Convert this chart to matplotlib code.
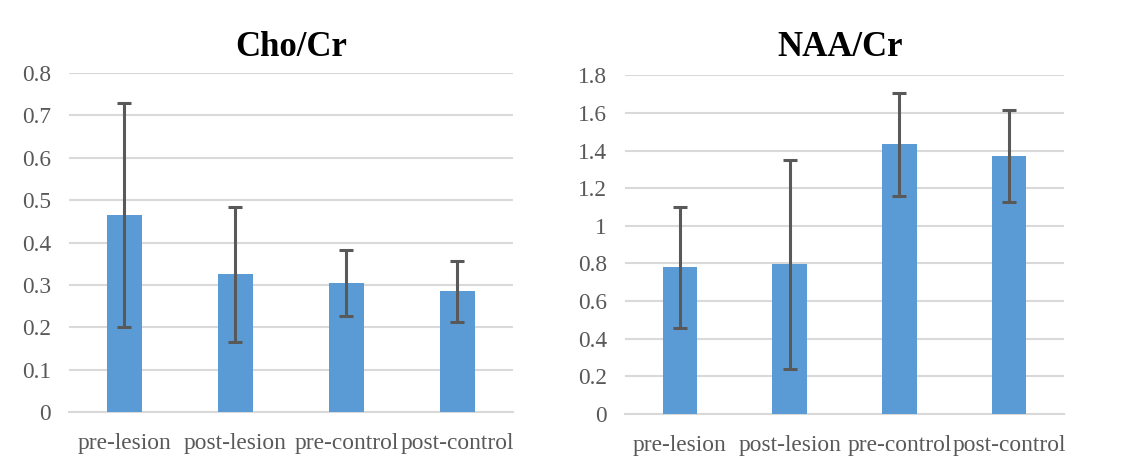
import matplotlib; matplotlib.use('Agg')
import matplotlib.pyplot as plt
import numpy as np

plt.rcParams.update({
    'font.family': 'Liberation Serif',
})

groups = ['pre-lesion', 'post-lesion', 'pre-control', 'post-control']

cho_mean = [0.465, 0.325, 0.305, 0.285]
cho_err = [0.265, 0.159, 0.078, 0.072]

naa_mean = [0.78, 0.797, 1.434, 1.37]
naa_err = [0.322, 0.555, 0.273, 0.246]

bar_col = '#5B9BD5'
err_col = '#595959'
grid_col = '#D9D9D9'
txt_col = '#595959'

fig = plt.figure(figsize=(11.26, 4.76), dpi=100)
fig.patch.set_facecolor('white')

ax1 = fig.add_axes([0.0613, 0.134, 0.394, 0.713])
ax2 = fig.add_axes([0.555, 0.130, 0.390, 0.712])


def draw(ax, means, errs, title, yticks, ylabels, tpad):
    x = np.arange(len(groups))
    ax.bar(x, means, width=0.315, color=bar_col, zorder=2)
    ax.errorbar(x, means, yerr=errs, fmt='none', ecolor=err_col,
                elinewidth=2.2, capsize=4.8, capthick=2.2, zorder=3)
    ax.set_xlim(-0.5, len(groups) - 0.5)
    ax.set_ylim(0, yticks[-1])
    ax.set_yticks(yticks)
    ax.set_yticklabels(ylabels)
    ax.set_xticks(x)
    ax.set_xticklabels(groups)
    ax.yaxis.grid(True, color=grid_col, lw=1.5, zorder=0)
    ax.set_axisbelow(True)
    for s in ['top', 'right', 'left']:
        ax.spines[s].set_visible(False)
    ax.spines['bottom'].set_color(grid_col)
    ax.spines['bottom'].set_linewidth(1.5)
    ax.spines['bottom'].set_zorder(1)
    ax.tick_params(axis='both', length=0, labelsize=16.8, colors=txt_col)
    ax.tick_params(axis='x', pad=15)
    ax.tick_params(axis='y', pad=13)
    ax.set_title(title, fontsize=25, fontweight='bold', pad=tpad)


draw(ax1, cho_mean, cho_err, 'Cho/Cr',
     np.arange(0, 0.81, 0.1), ['0', '0.1', '0.2', '0.3', '0.4', '0.5', '0.6', '0.7', '0.8'], 12)
draw(ax2, naa_mean, naa_err, 'NAA/Cr',
     np.arange(0, 1.81, 0.2), ['0', '0.2', '0.4', '0.6', '0.8', '1', '1.2', '1.4', '1.6', '1.8'], 14)
ax2.title.set_x(0.49)

fig.savefig('out.png', dpi=100)
plt.close()
